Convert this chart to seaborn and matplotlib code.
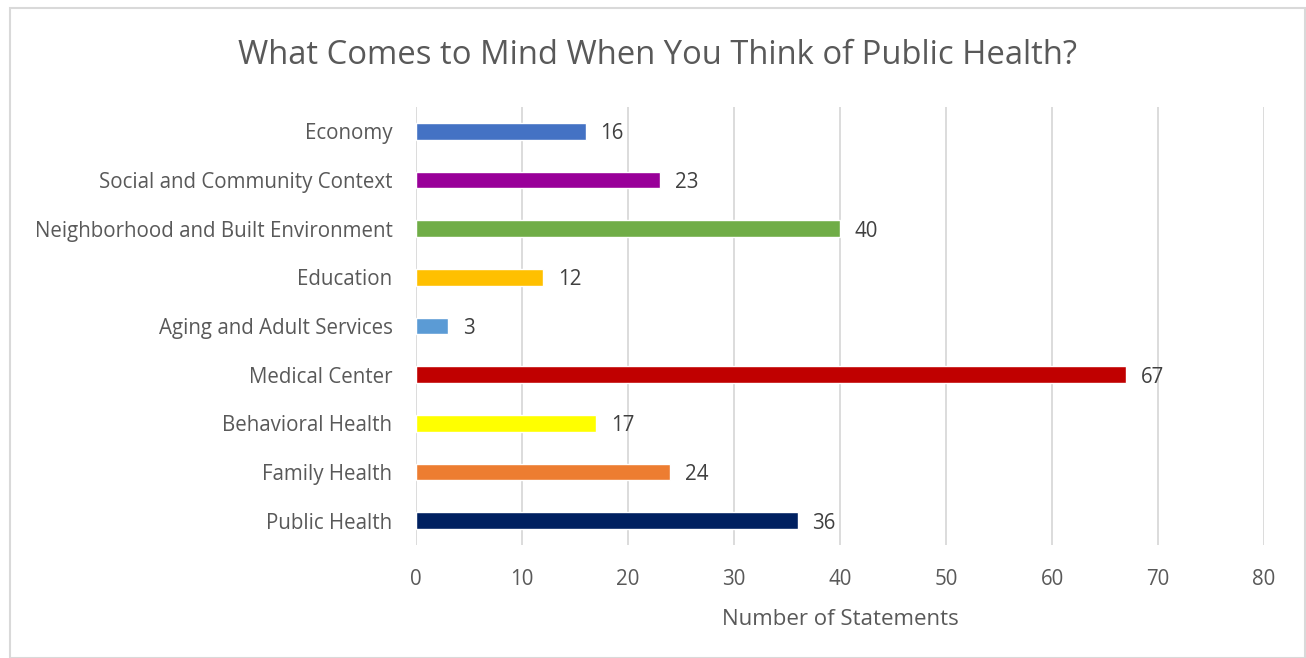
import matplotlib
matplotlib.use("Agg")
import matplotlib.pyplot as plt
import seaborn as sns
import pandas as pd
from matplotlib.patches import Rectangle

categories = [
    "Economy",
    "Social and Community Context",
    "Neighborhood and Built Environment",
    "Education",
    "Aging and Adult Services",
    "Medical Center",
    "Behavioral Health",
    "Family Health",
    "Public Health",
]
statements = [16, 23, 40, 12, 3, 67, 17, 24, 36]
bar_colors = ["#4472C4", "#990099", "#70AD47", "#FFC000", "#5B9BD5",
              "#C00000", "#FFFF00", "#ED7D31", "#002060"]
x_ticks = [0, 10, 20, 30, 40, 50, 60, 70, 80]

df = pd.DataFrame({"Category": categories, "Statements": statements})

sns.set_theme(style="white")
plt.rcParams["font.family"] = ["Open Sans", "DejaVu Sans"]

text_color = "#595959"
grid_color = "#D9D9D9"

fig = plt.figure(figsize=(13.06, 6.58), dpi=100)
ax = fig.add_axes([416 / 1306, 1 - 545 / 658, (1264 - 416) / 1306, (545 - 107) / 658])

sns.barplot(data=df, x="Statements", y="Category", hue="Category",
            palette=dict(zip(categories, bar_colors)), orient="h",
            width=0.34, legend=False, ax=ax, saturation=1)

ax.set_xlim(0, 80)
ax.set_ylim(len(categories) - 0.5, -0.5)
ax.set_xticks(x_ticks)
ax.set_xticklabels([str(t) for t in x_ticks])
ax.xaxis.grid(True, color=grid_color, linewidth=1.3)
ax.set_axisbelow(True)
for s in ax.spines.values():
    s.set_visible(False)
ax.tick_params(axis="both", length=0, labelsize=14.8, labelcolor=text_color)
ax.tick_params(axis="x", pad=17)
ax.tick_params(axis="y", pad=17)
ax.set_ylabel("")
ax.set_xlabel("Number of Statements", fontsize=16, color=text_color, labelpad=14)

for i, v in enumerate(statements):
    ax.text(v + 1.4, i, str(v), va="center_baseline", ha="left",
            fontsize=14.8, color="#404040")

fig.text(657 / 1306, 1 - 55 / 658, "What Comes to Mind When You Think of Public Health?",
         ha="center", va="center", fontsize=23.6, color=text_color)

fig.patches.append(Rectangle((10 / 1306, 0), (1305 - 10) / 1306, 1 - 8 / 658,
                             transform=fig.transFigure, fill=False,
                             edgecolor=grid_color, linewidth=1.5))

fig.savefig("out.png", dpi=100, facecolor="white")
